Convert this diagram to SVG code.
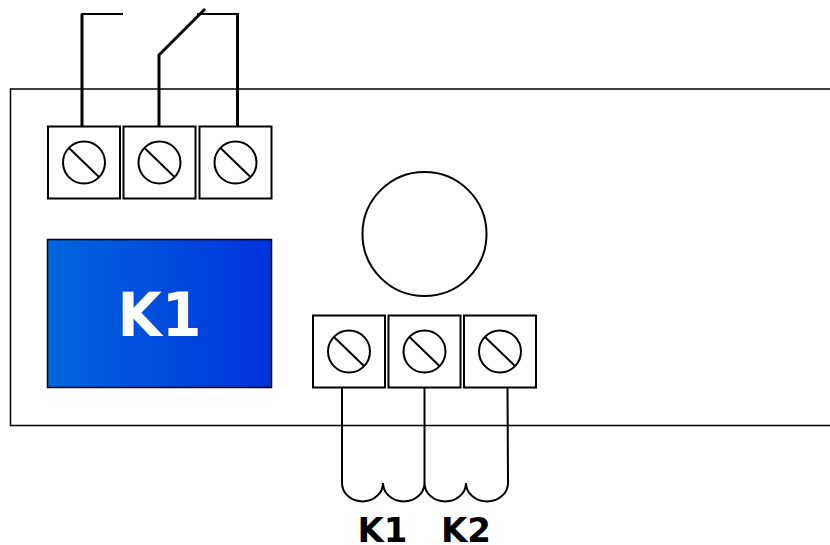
<svg xmlns="http://www.w3.org/2000/svg" width="830" height="545" viewBox="0 0 830 545">
<defs>
<linearGradient id="g" x1="0" y1="0" x2="1" y2="0"><stop offset="0" stop-color="#0066dd"/><stop offset="1" stop-color="#0033dd"/></linearGradient>
<g id="terminal"><rect x="0" y="0" width="72" height="72" class="b"/><circle cx="36" cy="36" r="21" class="b"/><path d="M21 21.500L51 50.500" class="b"/></g>
</defs>
<style>
.b{fill:#fff;stroke:#000;stroke-width:2}
.w{fill:none;stroke:#000;stroke-width:2}
.t{fill:none;stroke:#000;stroke-width:3}
text{font-family:"DejaVu Sans",sans-serif;font-weight:bold}
</style>
<rect width="830" height="545" fill="#fff"/>
<g id="enclosure"><path d="M830 89H10.500V425.500H830" fill="#fff" stroke="#000" stroke-width="1.500"/></g>
<g id="connectors">
<path class="t" d="M82 126V14"/>
<path class="w" d="M81 14H123"/>
<path class="t" d="M159 126V55L205 9"/>
<path class="w" d="M197 14H238"/>
<path class="t" d="M237.500 13V126"/>
<path class="w" d="M342 388V483A20.500 18.500 0 0 0 383 483A20.750 18.500 0 0 0 424.500 483V388M424.500 483A20.750 18.500 0 0 0 466 483A21 18.500 0 0 0 508 483L507.500 388"/>
</g>
<g id="terminal-top-1"><use href="#terminal" x="48" y="126.500"/></g>
<g id="terminal-top-2"><use href="#terminal" x="123.500" y="126.500"/></g>
<g id="terminal-top-3"><use href="#terminal" x="199.500" y="126.500"/></g>
<g id="relay-k1"><rect x="47.500" y="239.500" width="224" height="148" fill="url(#g)" stroke="#000" stroke-width="1.500"/><text x="159.500" y="336" font-size="60" text-anchor="middle" fill="#fff" textLength="84" lengthAdjust="spacingAndGlyphs">K1</text></g>
<g id="knob"><circle cx="424.500" cy="234" r="62" class="b"/></g>
<g id="terminal-bottom-1"><use href="#terminal" x="313" y="315.500"/></g>
<g id="terminal-bottom-2"><use href="#terminal" x="388.500" y="315.500"/></g>
<g id="terminal-bottom-3"><use href="#terminal" x="464" y="315.500"/></g>
<g id="labels"><text x="382.500" y="542" font-size="34" text-anchor="middle">K1</text><text x="466" y="542" font-size="34" text-anchor="middle">K2</text></g>
</svg>
